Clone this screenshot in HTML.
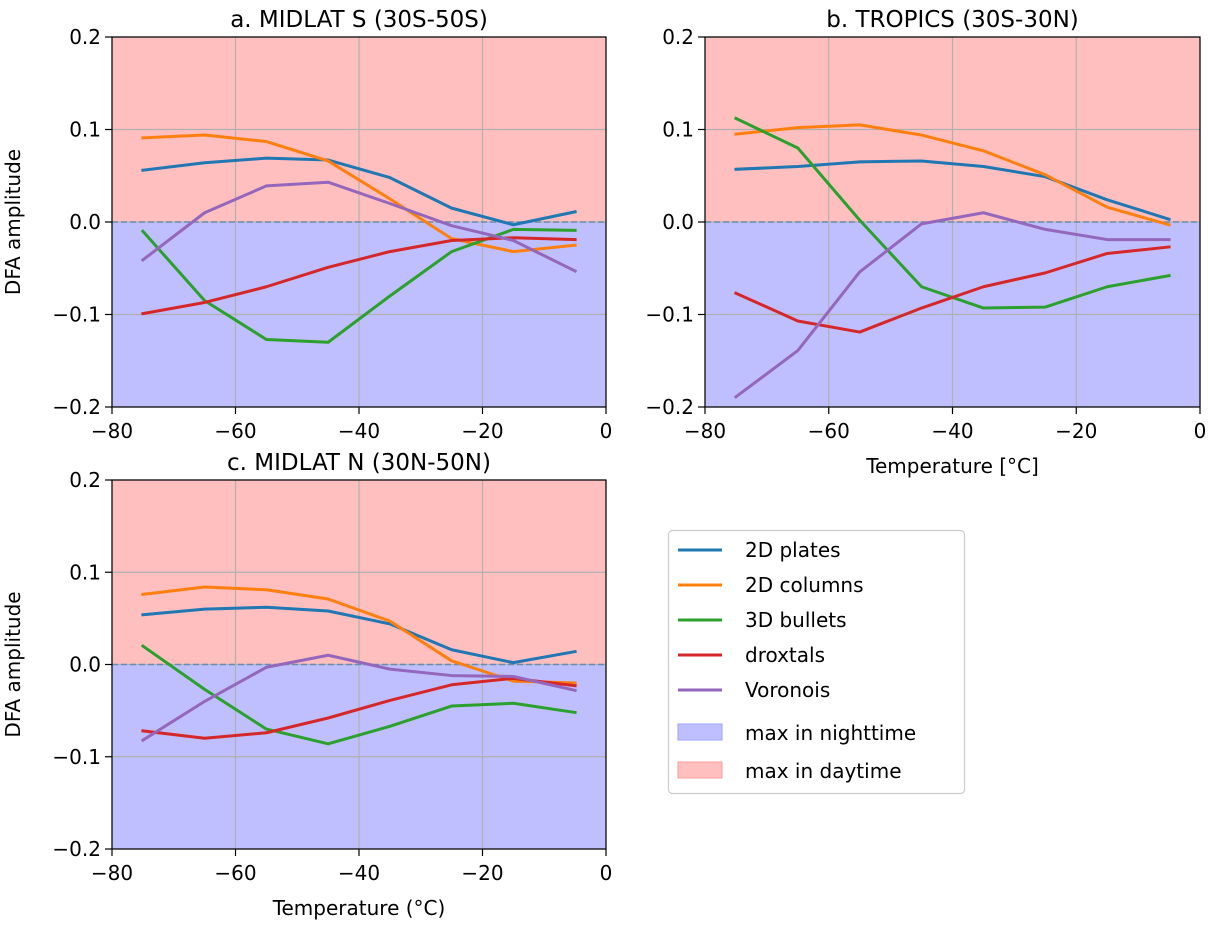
<!DOCTYPE html>
<html><head><meta charset="utf-8">
<style>
html,body{margin:0;padding:0;background:#fff;}
svg{display:block;font-family:"DejaVu Sans","Liberation Sans",sans-serif;}
</style></head>
<body>
<svg id="chart" width="1208" height="926" viewBox="0 0 1208 926"></svg>
<script>
const temps = [-75,-65,-55,-45,-35,-25,-15,-5];
const seriesNames = ["2D plates","2D columns","3D bullets","droxtals","Voronois"];
const seriesColors = ["#1f77b4","#ff7f0e","#2ca02c","#d62728","#9467bd"];
const xTicks = [-80,-60,-40,-20,0];
const xTickLabels = ["\u221280","\u221260","\u221240","\u221220","0"];
const yTicks = [0.2,0.1,0.0,-0.1,-0.2];
const yTickLabels = ["0.2","0.1","0.0","\u22120.1","\u22120.2"];
const aPlates  = [0.056,0.064,0.069,0.067,0.048,0.015,-0.003,0.011];
const aColumns = [0.091,0.094,0.087,0.066,0.025,-0.018,-0.032,-0.025];
const aBullets = [-0.010,-0.085,-0.127,-0.130,-0.080,-0.032,-0.008,-0.009];
const aDroxtals= [-0.099,-0.087,-0.070,-0.049,-0.032,-0.020,-0.017,-0.019];
const aVoronoi = [-0.041,0.010,0.039,0.043,0.020,-0.004,-0.020,-0.053];
const bPlates  = [0.057,0.060,0.065,0.066,0.060,0.049,0.024,0.003];
const bColumns = [0.095,0.102,0.105,0.094,0.077,0.051,0.016,-0.003];
const bBullets = [0.112,0.080,0.002,-0.070,-0.093,-0.092,-0.070,-0.058];
const bDroxtals= [-0.077,-0.107,-0.119,-0.093,-0.070,-0.055,-0.034,-0.027];
const bVoronoi = [-0.189,-0.139,-0.054,-0.002,0.010,-0.008,-0.019,-0.019];
const cPlates  = [0.054,0.060,0.062,0.058,0.044,0.016,0.002,0.014];
const cColumns = [0.076,0.084,0.081,0.071,0.047,0.004,-0.018,-0.020];
const cBullets = [0.020,-0.027,-0.070,-0.086,-0.067,-0.045,-0.042,-0.052];
const cDroxtals= [-0.072,-0.080,-0.074,-0.058,-0.039,-0.022,-0.015,-0.023];
const cVoronoi = [-0.082,-0.040,-0.003,0.010,-0.005,-0.012,-0.013,-0.028];

const NS="http://www.w3.org/2000/svg";
const svg=document.getElementById('chart');
function mk(tag,attrs,parent,text){const e=document.createElementNS(NS,tag);for(const k in attrs)e.setAttribute(k,attrs[k]);if(text!==undefined)e.textContent=text;(parent||svg).appendChild(e);return e;}

function panel(key,x0,x1,y0,y1,title,xlabel,ylabel,series){
  const g=mk('g',{});
  
  
  const sx=v=>x0+(v+80)/80*(x1-x0);
  const sy=v=>y0+(0.2-v)/0.4*(y1-y0);
  const r1=mk('rect',{x:x0,y:y0,width:x1-x0,height:sy(0)-y0,fill:'#ffbfbf'},g);
  
  
  const r2=mk('rect',{x:x0,y:sy(0),width:x1-x0,height:y1-sy(0),fill:'#bfbfff'},g);
  
  
  xTicks.forEach((t,i)=>{
    const x=sx(t);
    mk('line',{x1:x,x2:x,y1:y0,y2:y1,stroke:'#b0b0b0','stroke-width':1.2},g);
    mk('line',{x1:x,x2:x,y1:y1,y2:y1+7,stroke:'#000','stroke-width':1.2},g);
    const tl=mk('text',{x:x,y:y1+31,'text-anchor':'middle','font-size':20},g,xTickLabels[i]);
    
    
  });
  yTicks.forEach((t,i)=>{
    const y=sy(t);
    mk('line',{x1:x0,x2:x1,y1:y,y2:y,stroke:'#b0b0b0','stroke-width':1.2},g);
    mk('line',{x1:x0-7,x2:x0,y1:y,y2:y,stroke:'#000','stroke-width':1.2},g);
    const tl=mk('text',{x:x0-11,y:y+7,'text-anchor':'end','font-size':20},g,yTickLabels[i]);
    
    
  });
  mk('line',{x1:x0,x2:x1,y1:sy(0),y2:sy(0),stroke:'#6a8cb0','stroke-width':1.5,'stroke-dasharray':'6,3'},g);
  series.forEach((vals,si)=>{
    const p=mk('polyline',{points:vals.map((v,i)=>sx(temps[i])+','+sy(v)).join(' '),fill:'none',stroke:seriesColors[si],'stroke-width':3,'stroke-linejoin':'round','stroke-linecap':'square'},g);
    
    
  });
  mk('rect',{x:x0,y:y0,width:x1-x0,height:y1-y0,fill:'none',stroke:'#000','stroke-width':1.2},g);
  const tt=mk('text',{x:(x0+x1)/2,y:y0-10,'text-anchor':'middle','font-size':23},g,title);
  
  
  if(xlabel){const xl=mk('text',{x:(x0+x1)/2,y:y1+66,'text-anchor':'middle','font-size':20},g,xlabel);
    
    }
  if(ylabel){const cy=(y0+y1)/2;const yl=mk('text',{x:20,y:cy,'text-anchor':'middle','font-size':20,transform:'rotate(-90 20 '+cy+')'},g,ylabel);
    
    }
}
panel('a',112,606,37,407,'a. MIDLAT S (30S-50S)',null,'DFA amplitude',[aPlates,aColumns,aBullets,aDroxtals,aVoronoi]);
panel('b',705,1200,37,407,'b. TROPICS (30S-30N)','Temperature [\u00b0C]',null,[bPlates,bColumns,bBullets,bDroxtals,bVoronoi]);
panel('c',112,606,480,849,'c. MIDLAT N (30N-50N)','Temperature (\u00b0C)','DFA amplitude',[cPlates,cColumns,cBullets,cDroxtals,cVoronoi]);

// legend
const lg=mk('g',{});


mk('rect',{x:668.5,y:530.5,width:296,height:263,rx:4,fill:'#fff',stroke:'#ccc','stroke-width':1.2},lg);
const ly=[550,585,620,655,690];
seriesNames.forEach((n,i)=>{
  mk('line',{x1:678,x2:722,y1:ly[i],y2:ly[i],stroke:seriesColors[i],'stroke-width':3},lg);
  const t=mk('text',{x:745,y:ly[i]+7,'font-size':20},lg,n);
  
  
});
mk('rect',{x:678,y:724,width:44,height:16,fill:'#bfbfff',stroke:'#9f9fff'},lg);
const t1=mk('text',{x:745,y:740,'font-size':20},lg,'max in nighttime');


mk('rect',{x:678,y:762,width:44,height:16,fill:'#ffbfbf',stroke:'#ff9f9f'},lg);
const t2=mk('text',{x:745,y:778,'font-size':20},lg,'max in daytime');


</script>
</body></html>
